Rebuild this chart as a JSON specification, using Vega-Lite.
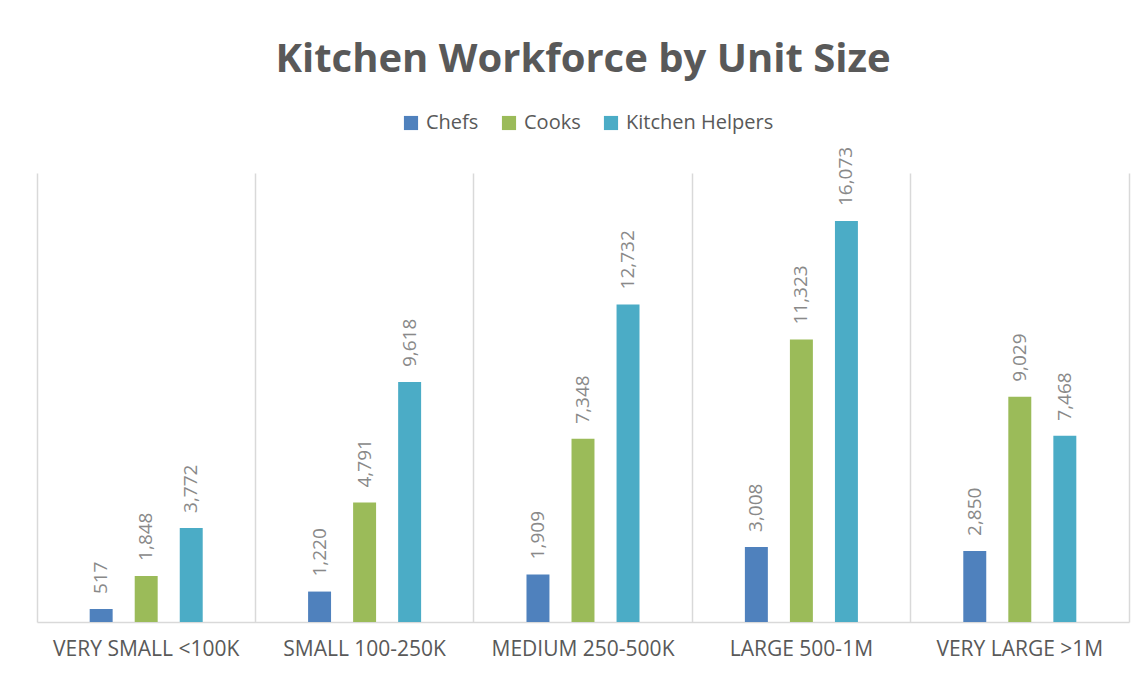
{
  "$schema": "https://vega.github.io/schema/vega-lite/v6.json",
  "autosize": {"type": "none"},
  "width": 1092,
  "height": 449,
  "padding": {"left": 37, "top": 173, "right": 18, "bottom": 52},
  "background": "white",
  "title": {
    "text": "Kitchen Workforce by Unit Size",
    "font": "Open Sans",
    "fontSize": 40,
    "fontWeight": "bold",
    "color": "#595959",
    "anchor": "middle",
    "offset": 33
  },
  "config": {
    "view": {"stroke": null},
    "font": "Open Sans"
  },
  "data": {
    "values": [
      {"size": "VERY SMALL <100K", "role": "Chefs", "count": 517},
      {"size": "VERY SMALL <100K", "role": "Cooks", "count": 1848},
      {"size": "VERY SMALL <100K", "role": "Kitchen Helpers", "count": 3772},
      {"size": "SMALL 100-250K", "role": "Chefs", "count": 1220},
      {"size": "SMALL 100-250K", "role": "Cooks", "count": 4791},
      {"size": "SMALL 100-250K", "role": "Kitchen Helpers", "count": 9618},
      {"size": "MEDIUM 250-500K", "role": "Chefs", "count": 1909},
      {"size": "MEDIUM 250-500K", "role": "Cooks", "count": 7348},
      {"size": "MEDIUM 250-500K", "role": "Kitchen Helpers", "count": 12732},
      {"size": "LARGE 500-1M", "role": "Chefs", "count": 3008},
      {"size": "LARGE 500-1M", "role": "Cooks", "count": 11323},
      {"size": "LARGE 500-1M", "role": "Kitchen Helpers", "count": 16073},
      {"size": "VERY LARGE >1M", "role": "Chefs", "count": 2850},
      {"size": "VERY LARGE >1M", "role": "Cooks", "count": 9029},
      {"size": "VERY LARGE >1M", "role": "Kitchen Helpers", "count": 7468}
    ]
  },
  "encoding": {
    "x": {
      "field": "size",
      "type": "nominal",
      "sort": null,
      "scale": {"paddingInner": 0, "paddingOuter": 0}
    },
    "xOffset": {
      "field": "role",
      "type": "nominal",
      "scale": {
        "domain": ["_left", "Chefs", "Cooks", "Kitchen Helpers", "_right"],
        "paddingInner": 0.49,
        "paddingOuter": 0.17
      }
    },
    "y": {
      "field": "count",
      "type": "quantitative",
      "scale": {"domain": [0, 18000], "nice": false}
    }
  },
  "layer": [
    {
      "mark": {"type": "bar"},
      "encoding": {
        "x": {
          "field": "size",
          "type": "nominal",
          "sort": null,
          "scale": {"paddingInner": 0, "paddingOuter": 0},
          "axis": {
            "title": null,
            "labelAngle": 0,
            "labelFont": "Open Sans",
            "labelFontSize": 21,
            "labelColor": "#595959",
            "labelPadding": 16,
            "labelLimit": 0,
            "labelOverlap": false,
            "ticks": false,
            "grid": false,
            "domain": true,
            "domainColor": "#d9d9d9",
            "domainWidth": 1.5
          }
        },
        "y": {
          "field": "count",
          "type": "quantitative",
          "scale": {"domain": [0, 18000], "nice": false},
          "axis": {
            "orient": "right",
            "title": null,
            "labels": false,
            "ticks": false,
            "grid": false,
            "domain": true,
            "domainColor": "#d9d9d9",
            "domainWidth": 1.5
          }
        },
        "color": {
          "field": "role",
          "type": "nominal",
          "sort": ["Chefs", "Cooks", "Kitchen Helpers"],
          "scale": {
            "domain": ["Chefs", "Cooks", "Kitchen Helpers"],
            "range": ["#4f81bd", "#9bbb59", "#4bacc6"]
          },
          "legend": {
            "title": null,
            "orient": "none",
            "direction": "horizontal",
            "legendX": 364,
            "legendY": -60,
            "symbolType": "square",
            "symbolSize": 200,
            "symbolStrokeWidth": 0,
            "labelFont": "Open Sans",
            "labelFontSize": 20,
            "labelColor": "#595959",
            "labelOffset": 5,
            "columnPadding": 20
          }
        }
      }
    },
    {
      "mark": {
        "type": "text",
        "angle": 270,
        "align": "left",
        "baseline": "middle",
        "dx": 15,
        "font": "Open Sans",
        "fontSize": 19,
        "color": "#898989"
      },
      "encoding": {
        "x": {
          "field": "size",
          "type": "nominal",
          "sort": null,
          "axis": {
            "orient": "top",
            "title": null,
            "labels": false,
            "ticks": false,
            "domain": false,
            "grid": true,
            "bandPosition": 0,
            "gridColor": "#d9d9d9",
            "gridWidth": 1.5
          }
        },
        "y": {
          "field": "count",
          "type": "quantitative",
          "axis": null
        },
        "text": {"field": "count", "type": "quantitative", "format": ","}
      }
    }
  ],
  "resolve": {"axis": {"x": "independent", "y": "independent"}}
}
